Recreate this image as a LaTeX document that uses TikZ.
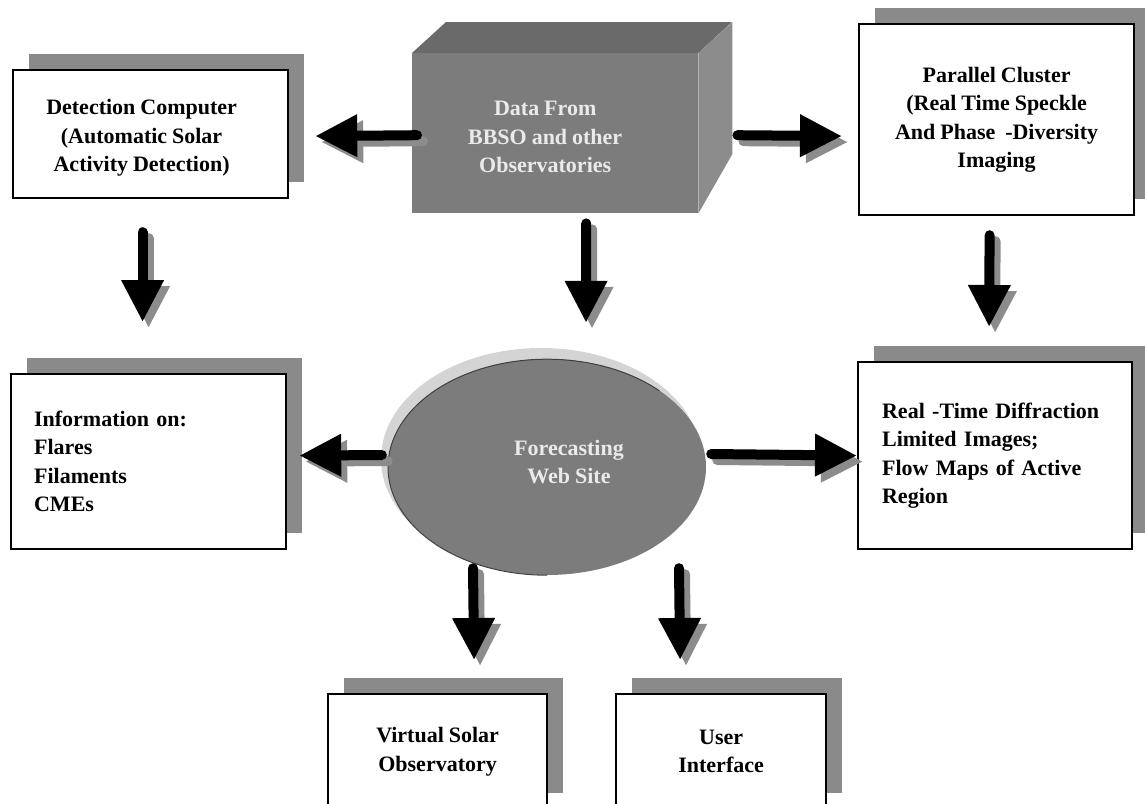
\documentclass[tikz,border=0pt]{standalone}
\usepackage{fontspec}
\setmainfont{Liberation Serif}[WordSpace=0.9]
\usetikzlibrary{arrows.meta,shapes.geometric,shadows,calc}

\definecolor{shadowgray}{RGB}{138,138,138}
\definecolor{arrowgray}{RGB}{140,140,140}
\definecolor{cubefront}{RGB}{124,124,124}
\definecolor{cubetop}{RGB}{106,106,106}
\definecolor{cubeside}{RGB}{140,140,140}
\definecolor{halogray}{RGB}{212,212,212}
\definecolor{lighttext}{RGB}{234,234,234}

% thick block arrow with a grey drop shadow
\newcommand\fatarrow[2]{%
  \draw[bigarrow,arrowgray,transform canvas={xshift=6pt,yshift=-6pt}] #1 -- #2;
  \draw[bigarrow,black] #1 -- #2;}

\begin{document}
\begin{tikzpicture}[x=1pt,y=-1pt,
  txt/.style={font=\fontsize{22}{28.5}\selectfont\bfseries},
  panel/.style={draw=black, line width=2.2pt, fill=white, txt, inner sep=0pt,
    align=center, anchor=north west,
    general shadow={fill=shadowgray, shadow xshift=16pt, shadow yshift=16pt}},
  listpanel/.style={panel, align=left, inner xsep=#1, inner ysep=0pt},
  bigarrow/.style={line width=10pt, line cap=round,
    -{Triangle[width=40pt,length=42pt]}},
]
\useasboundingbox (0,0) rectangle (1145,803);
\clip (0,0) rectangle (1145,803);
\fill[white] (0,0) rectangle (1145,803);

% source cuboid
\node[fill=cubefront, inner sep=0pt,
      minimum width=286pt, minimum height=160pt, anchor=north west,
      label={[name=datalabel, txt, text=lighttext, align=center, xshift=-10pt, yshift=-4pt]center:{Data From\\BBSO and other\\Observatories}}]
  (data) at (412,53) {};
\fill[cubetop] (data.north west) -- ++(34,-31) -- ++(286,0) -- (data.north east) -- cycle;
\fill[cubeside] (data.north east) -- ++(34,-31) -- ++(0,132) -- (data.south east) -- cycle;

% processing boxes
\node[panel, minimum width=275pt, minimum height=128pt,
      label={[name=detlabel, txt, align=center, xshift=-9pt, yshift=-4pt]center:{Detection Computer\\(Automatic Solar\\Activity Detection)}}]
  (det) at (12,69) {};
\node[panel, minimum width=275pt, minimum height=191pt]
  (par) at (858,23) {Parallel Cluster\\(Real Time Speckle\\And Phase~ -Diversity\\Imaging};

% products
\node[listpanel=23pt, text width=229pt, minimum width=275pt, minimum height=175pt]
  (info) at (10,373) {Information on:\\Flares\\Filaments\\CMEs};
\node[listpanel=24pt, text width=226pt, minimum width=274pt, minimum height=187pt]
  (rt) at (857,361) {Real -Time Diffraction\\Limited Images;\\Flow Maps of Active\\Region};

% web site hub: pale halo, grey oval, dark rim on its left and top
\node[ellipse, fill=halogray, minimum width=320pt, minimum height=222pt] (halo) at (541,459) {};
\node[ellipse, fill=cubefront, minimum width=318pt, minimum height=216pt] (fws) at (547,467) {};
\draw[black!75, line width=1pt]
  (fws.south) arc[start angle=270, end angle=45, x radius=159pt, y radius=108pt];
\node[txt, text=lighttext, align=center] (fwslabel) at (569,462) {Forecasting\\Web Site};

% outlets
\node[panel, minimum width=219pt, minimum height=115pt]
  (vso) at (327,693) {Virtual Solar\\Observatory};
\node[panel, minimum width=210pt, minimum height=115pt]
  (ui) at (615,693) {User\\Interface};

% data flow
\fatarrow{($(data.west)+(5,2)$)}{($(det.east)+(26,2)$)}
\fatarrow{($(data.east)+(39,2)$)}{($(par.west)+(-16,16.5)$)}
\fatarrow{($(det.south)+(-8,33)$)}{($(info.north)+(-6,-51)$)}
\fatarrow{($(data.south)+(31,10)$)}{($(fws.north)+(39,-36)$)}
\fatarrow{($(par.south)+(-7,19)$)}{($(rt.north)+(-6,-34)$)}
\fatarrow{($(fws.west)+(-6,-12)$)}{($(info.east)+(12,-6)$)}
\fatarrow{($(fws.east)+(5,-13)$)}{($(rt.west)+(0,0)$)}
\fatarrow{($(fws.south)+(-74,-7)$)}{($(vso.north)+(36.5,-33)$)}
\fatarrow{($(fws.south)+(132,-7)$)}{($(ui.north)+(-41,-33)$)}
\end{tikzpicture}
\end{document}
